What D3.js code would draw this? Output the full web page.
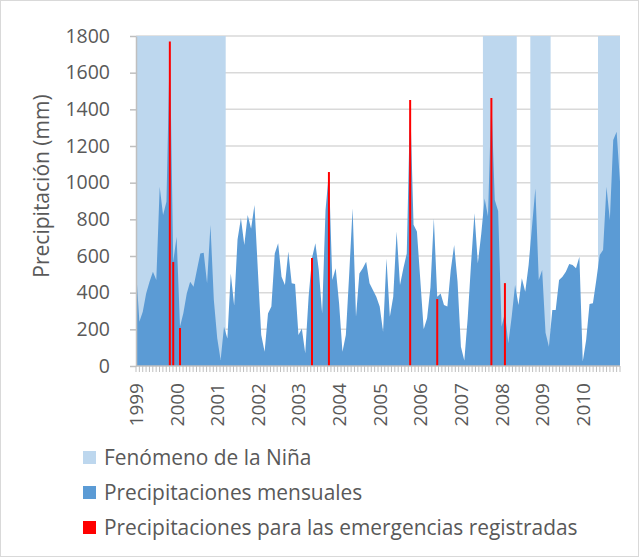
<!DOCTYPE html>
<html><head><meta charset="utf-8">
<script src="https://cdn.jsdelivr.net/npm/d3@7"></script>
<style>body{margin:0;background:#fff}svg{display:block}text{font-family:"Open Sans",sans-serif;fill:#595959}</style>
</head><body><svg id="c" width="639" height="557"></svg>
<script>
const years = ["1999","2000","2001","2002","2003","2004","2005","2006","2007","2008","2009","2010"];
const yTicks = [0,200,400,600,800,1000,1200,1400,1600,1800];
// monthly precipitation (mm), Jan 1999 .. Dec 2010
const precip = [
 530,242,296,396,460,514,469,978,824,896,1770,569,
 705,214,289,396,460,432,523,614,618,451,769,360,
 151,33,214,150,505,330,690,806,660,824,748,878,
 524,169,78,287,324,614,669,487,442,624,451,447,
 169,205,69,378,589,669,524,287,851,1058,469,533,
 342,78,169,505,860,269,505,533,569,451,415,378,
 324,187,587,269,378,733,442,533,614,1451,770,733,
 469,200,260,430,806,378,396,333,324,524,660,460,
 105,30,260,560,833,560,720,914,815,1462,905,845,
 214,289,124,269,442,333,478,405,551,760,969,469,
 524,182,105,305,305,469,487,514,556,551,533,596,
 24,142,338,342,469,605,633,978,796,1233,1278,1005];
// emergencies: month index and precipitation
const emergMonth = [10,11,13,52,57,81,89,105,109];
const emergValue = [1770,567,207,589,1058,1451,365,1462,452];
// La Niña periods (first and last month index)
const ninaStart = [0,103,117,137];
const ninaEnd   = [26,112,122,143];
const legendLabels = ["Fenómeno de la Niña","Precipitaciones mensuales","Precipitaciones para las emergencias registradas"];
const colors = {nina:"#bdd7ee", area:"#5b9bd5", red:"#ff0000"};

const months = d3.range(precip.length);
const svg = d3.select("#c");
svg.append("rect").attr("x",0.5).attr("y",0.5).attr("width",638).attr("height",556)
  .attr("fill","#fff").attr("stroke","#d9d9d9");

const L=136, R=620, T=36, B=366;
const x = d3.scalePoint().domain(months).range([L,R]);
const step = x.step();
const y = d3.scaleLinear().domain([0,1800]).range([B,T]);

// gridlines
svg.append("g").selectAll("line").data(yTicks.slice(1)).join("line")
  .attr("x1",L).attr("x2",R).attr("y1",d=>y(d)).attr("y2",d=>y(d))
  .attr("stroke","#d9d9d9").attr("stroke-width",1.5);

// Niña bands
svg.append("g").selectAll("rect").data(ninaStart).join("rect")
  .attr("x",(d,i)=>Math.max(L,x(d)-step/2))
  .attr("width",(d,i)=>Math.min(R,x(ninaEnd[i])+step/2)-Math.max(L,x(d)-step/2))
  .attr("y",y(1800)).attr("height",y(0)-y(1800)).attr("fill",colors.nina);

// area
svg.append("path").datum(precip)
  .attr("d",d3.area().x((d,i)=>x(i)).y0(y(0)).y1(d=>y(d)))
  .attr("fill",colors.area);

// emergency lines
svg.append("g").selectAll("line").data(emergMonth).join("line")
  .attr("x1",d=>x(d)).attr("x2",d=>x(d)).attr("y1",y(0)).attr("y2",(d,i)=>y(emergValue[i]))
  .attr("stroke",colors.red).attr("stroke-width",2);

// y axis
const ya = svg.append("g").attr("transform",`translate(${L},0)`)
  .call(d3.axisLeft(y).tickValues(yTicks).tickFormat(d3.format("d")).tickSize(6).tickPadding(20).tickSizeOuter(0));
ya.select(".domain").attr("stroke","#bfbfbf").attr("stroke-width",1.5);
ya.selectAll(".tick line").attr("stroke","#bfbfbf").attr("stroke-width",1.5);
ya.selectAll("text").attr("font-size",19.5).attr("fill","#595959")
  .attr("font-family","'Open Sans',sans-serif");

// x axis
const xa = svg.append("g").attr("transform",`translate(0,${B})`);
xa.append("line").attr("x1",L).attr("x2",R).attr("stroke","#bfbfbf").attr("stroke-width",1.5);
xa.selectAll("line.t").data(d3.range(precip.length+1)).join("line").attr("class","t")
  .attr("x1",d=>L+d*(R-L)/precip.length).attr("x2",d=>L+d*(R-L)/precip.length)
  .attr("y1",0).attr("y2",6).attr("stroke","#bfbfbf").attr("stroke-width",1);
xa.selectAll("text").data(years).join("text")
  .attr("transform",(d,i)=>`translate(${x(i*12)+7},${17}) rotate(-90)`)
  .attr("text-anchor","end").attr("font-size",19).text(d=>d);

// y title
svg.append("text").attr("transform","translate(49,186) rotate(-90)")
  .attr("text-anchor","middle").attr("font-size",21).text("Precipitación (mm)");

// legend
const lg = svg.append("g");
const lcol = [colors.nina, colors.area, colors.red];
legendLabels.forEach((t,i)=>{
  const yy = 458 + i*35;
  lg.append("rect").attr("x",83).attr("y",yy-7).attr("width",13).attr("height",13).attr("fill",lcol[i]);
  lg.append("text").attr("x",104).attr("y",yy+7).attr("font-size",20.9).text(t);
});
</script></body></html>
